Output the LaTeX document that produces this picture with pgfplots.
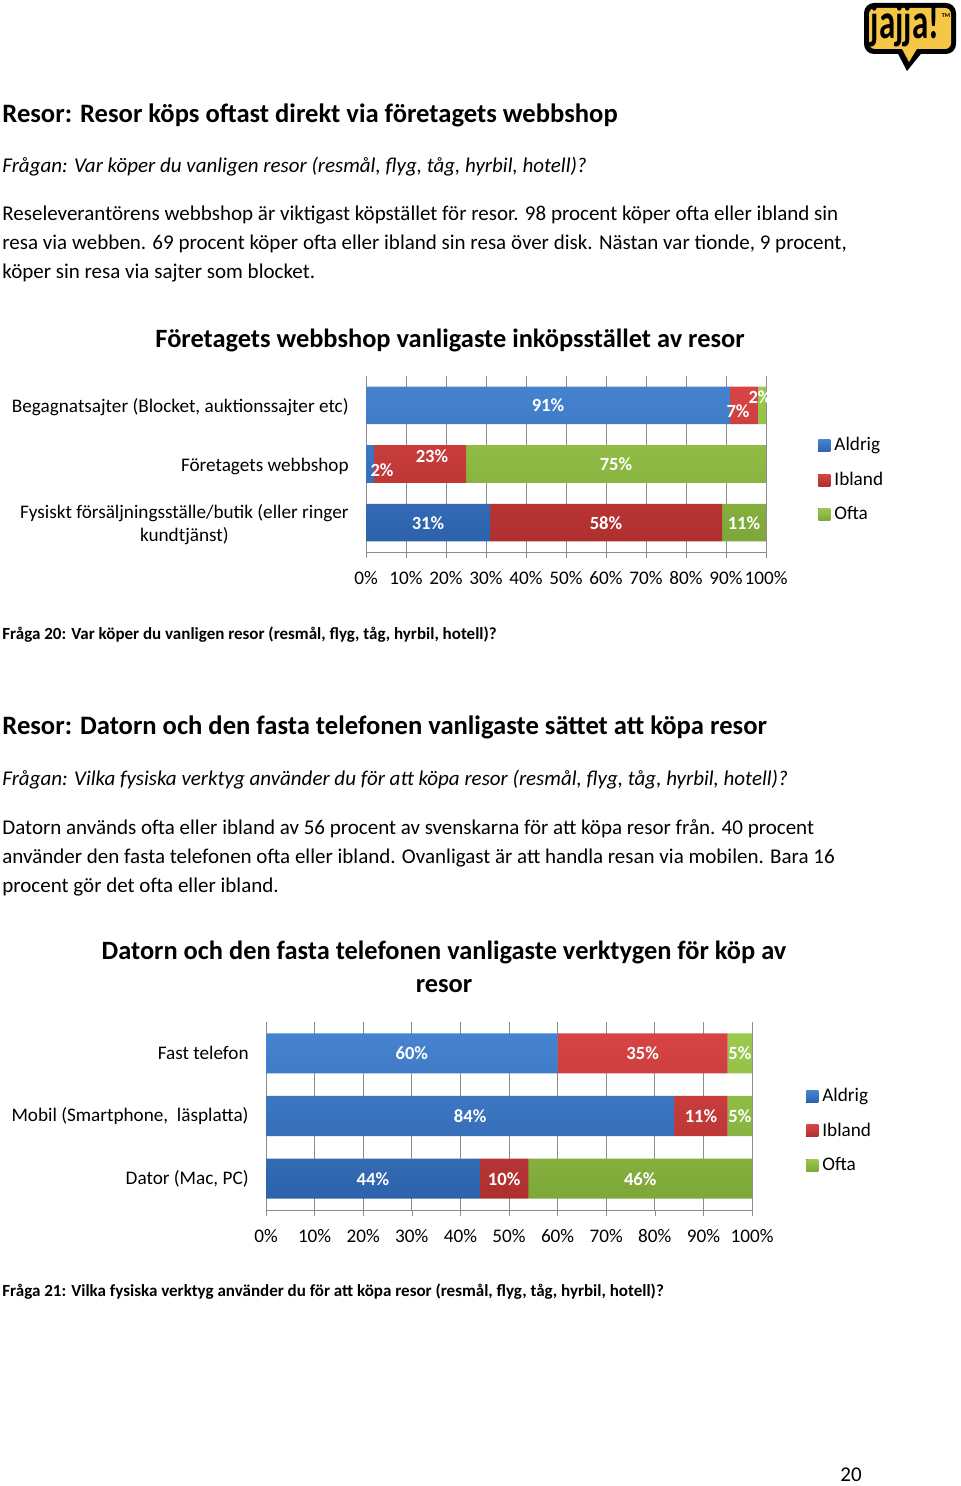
\documentclass[border=0pt]{standalone}
\usepackage{fontspec}
\setmainfont{Carlito}
\newfontfamily\logofont{Carlito}[FakeStretch=0.66]
\usepackage{pgfplots}
\pgfplotsset{compat=1.18}

\definecolor{blueT}{HTML}{4683CF}
\definecolor{blueB}{HTML}{2D62AB}
\definecolor{redT}{HTML}{D84444}
\definecolor{redB}{HTML}{AE2F2F}
\definecolor{greenT}{HTML}{9CC94E}
\definecolor{greenB}{HTML}{7DA738}
\definecolor{gridgray}{HTML}{8C8C8C}
\definecolor{logoyellow}{HTML}{F6C646}

\newcommand\bodyfont{\fontsize{10.5pt}{14.5pt}\selectfont}
\newcommand\headfont{\fontsize{13.3pt}{16pt}\selectfont\bfseries}
\newcommand\titlefont{\fontsize{13.2pt}{16.5pt}\selectfont\bfseries}
\newcommand\chartfont{\fontsize{9.6pt}{11.5pt}\selectfont}
\newcommand\labelfont{\fontsize{9.3pt}{10pt}\selectfont\bfseries}
\newcommand\capfont{\fontsize{8.5pt}{10pt}\selectfont\bfseries}

\pgfplotsset{
  barchart/.style={
    xbar stacked, scale only axis, bar width=0.64,
    xmin=0, xmax=100, ymin=0.5, ymax=3.5,
    xtick={0,10,...,100}, xticklabel={\pgfmathprintnumber{\tick}\%},
    ytick={1,2,3},
    axis x line*=bottom, axis y line*=left,
    axis line style={gridgray}, xmajorgrids,
    grid style={gridgray, line width=0.5pt},
    tick align=outside, major tick length=3pt,
    xtick style={gridgray}, ytick style={draw=none},
    /pgf/number format/assume math mode=true,
    ticklabel style={font=\chartfont},
    xticklabel style={yshift=-3pt},
    yticklabel style={align=center, inner sep=0pt, xshift=-5.5pt},
    legend cell align=left,
    legend style={draw=none, fill=none, font=\chartfont, inner sep=0pt,
      row sep=5pt, anchor=north west},
    legend image code/.code={\fill[##1] (0pt,-3pt) rectangle (6pt,3pt);},
  },
  barlabels/.style={
    scale only axis, hide axis, clip=false,
    xmin=0, xmax=100, ymin=0.5, ymax=3.5,
  },
  labelplot/.style={
    only marks, mark=none,
    point meta=explicit symbolic, nodes near coords,
    nodes near coords style={anchor=center, text=white, font=\labelfont},
  },
}

\begin{document}
\begin{tikzpicture}
\useasboundingbox (0,0) rectangle (480pt,-743pt);
\fill[white] (0,0) rectangle (480pt,-743pt);

\begin{scope}[x=0.5pt, y=-0.5pt]
  % logo
  \fill[black, rounded corners=5pt] (864,3) rectangle (956,54);
  \fill[black] (896,50) -- (924,50) -- (907,71) -- cycle;
  \fill[logoyellow, rounded corners=3pt] (869,8) rectangle (951,49);
  \fill[logoyellow] (901,47) -- (918,47) -- (909,62) -- cycle;
  \node[font=\logofont\bfseries\fontsize{25pt}{25pt}\selectfont, inner sep=0pt] at (905,25) {jajja!};
  \node[font=\fontsize{3pt}{3pt}\selectfont\bfseries, inner sep=0pt] at (946,16) {TM};

  % first section
  \node[anchor=base west, inner sep=0pt, font=\headfont] at (2,123)
    {Resor: Resor köps oftast direkt via företagets webbshop};
  \node[anchor=base west, inner sep=0pt, font=\bodyfont\itshape] at (2,173)
    {Frågan: Var köper du vanligen resor (resmål, flyg, tåg, hyrbil, hotell)?};
  \node[anchor=base west, inner sep=0pt, font=\bodyfont] at (2,221)
    {Reseleverantörens webbshop är viktigast köpstället för resor. 98 procent köper ofta eller ibland sin};
  \node[anchor=base west, inner sep=0pt, font=\bodyfont] at (2,250)
    {resa via webben. 69 procent köper ofta eller ibland sin resa över disk. Nästan var tionde, 9 procent,};
  \node[anchor=base west, inner sep=0pt, font=\bodyfont] at (2,279)
    {köper sin resa via sajter som blocket.};
  \node[anchor=base, inner sep=0pt, font=\titlefont] at (450,348)
    {Företagets webbshop vanligaste inköpsstället av resor};
  \node[anchor=base west, inner sep=0pt, font=\capfont] at (2,639)
    {Fråga 20: Var köper du vanligen resor (resmål, flyg, tåg, hyrbil, hotell)?};

  % second section
  \node[anchor=base west, inner sep=0pt, font=\headfont] at (2,734)
    {Resor: Datorn och den fasta telefonen vanligaste sättet att köpa resor};
  \node[anchor=base west, inner sep=0pt, font=\bodyfont\itshape] at (2,785)
    {Frågan: Vilka fysiska verktyg använder du för att köpa resor (resmål, flyg, tåg, hyrbil, hotell)?};
  \node[anchor=base west, inner sep=0pt, font=\bodyfont] at (2,834)
    {Datorn används ofta eller ibland av 56 procent av svenskarna för att köpa resor från. 40 procent};
  \node[anchor=base west, inner sep=0pt, font=\bodyfont] at (2,863)
    {använder den fasta telefonen ofta eller ibland. Ovanligast är att handla resan via mobilen. Bara 16};
  \node[anchor=base west, inner sep=0pt, font=\bodyfont] at (2,892)
    {procent gör det ofta eller ibland.};
  \node[anchor=base, inner sep=0pt, font=\titlefont] at (444,959)
    {Datorn och den fasta telefonen vanligaste verktygen för köp av};
  \node[anchor=base, inner sep=0pt, font=\titlefont] at (444,992) {resor};
  \node[anchor=base west, inner sep=0pt, font=\capfont] at (2,1296)
    {Fråga 21: Vilka fysiska verktyg använder du för att köpa resor (resmål, flyg, tåg, hyrbil, hotell)?};

  \node[anchor=base, inner sep=0pt, font=\bodyfont] at (851,1481) {20};
\end{scope}

% chart 1
\begin{axis}[barchart, at={(183pt,-276pt)}, anchor=south west,
  width=200pt, height=88pt,
  yticklabel style={yshift=-1pt},
  yticklabels={{Fysiskt försäljningsställe/butik (eller ringer\\kundtjänst)},
               {Företagets webbshop},
               {Begagnatsajter (Blocket, auktionssajter etc)}},
  legend style={at={(axis description cs:1.13,0.675)}}]
\addplot[draw=none, top color=blueT, bottom color=blueB]
  coordinates {(31,1) (2,2) (91,3)};
\addplot[draw=none, top color=redT, bottom color=redB]
  coordinates {(58,1) (23,2) (7,3)};
\addplot[draw=none, top color=greenT, bottom color=greenB]
  coordinates {(11,1) (75,2) (2,3)};
\legend{Aldrig, Ibland, Ofta}
\end{axis}
\begin{axis}[barlabels, at={(183pt,-276pt)}, anchor=south west,
  width=200pt, height=88pt]
\addplot[labelplot] coordinates {
  (15.5,1) [31\%] (60,1) [58\%] (94.5,1) [11\%]
  (4,1.9) [2\%] (16.5,2.14) [23\%] (62.5,2) [75\%]
  (45.5,3) [91\%] (93,2.9) [7\%] (98.5,3.14) [2\%]
};
\end{axis}

% chart 2
\begin{axis}[barchart, at={(133pt,-605pt)}, anchor=south west,
  width=243pt, height=94pt,
  yticklabels={{Dator (Mac, PC)},
               {Mobil (Smartphone,\ \ läsplatta)},
               {Fast telefon}},
  legend style={at={(axis description cs:1.111,0.67)}}]
\addplot[draw=none, top color=blueT, bottom color=blueB]
  coordinates {(44,1) (84,2) (60,3)};
\addplot[draw=none, top color=redT, bottom color=redB]
  coordinates {(10,1) (11,2) (35,3)};
\addplot[draw=none, top color=greenT, bottom color=greenB]
  coordinates {(46,1) (5,2) (5,3)};
\legend{Aldrig, Ibland, Ofta}
\end{axis}
\begin{axis}[barlabels, at={(133pt,-605pt)}, anchor=south west,
  width=243pt, height=94pt]
\addplot[labelplot] coordinates {
  (22,1) [44\%] (49,1) [10\%] (77,1) [46\%]
  (42,2) [84\%] (89.5,2) [11\%] (97.5,2) [5\%]
  (30,3) [60\%] (77.5,3) [35\%] (97.5,3) [5\%]
};
\end{axis}
\end{tikzpicture}
\end{document}
